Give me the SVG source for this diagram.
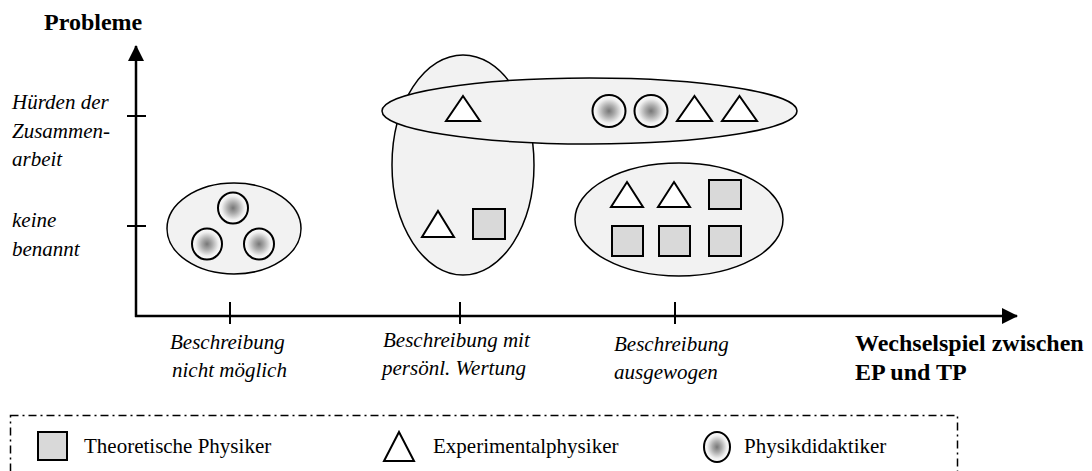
<svg xmlns="http://www.w3.org/2000/svg" width="1092" height="471" viewBox="0 0 1092 471">
<defs>
<radialGradient id="pd" cx="50%" cy="50%" r="50%">
<stop offset="0" stop-color="#777"/>
<stop offset="0.35" stop-color="#aaa"/>
<stop offset="0.75" stop-color="#eee"/>
<stop offset="1" stop-color="#fff"/>
</radialGradient>
<marker id="ah" viewBox="0 0 16 16" refX="15" refY="8" markerWidth="16" markerHeight="16" markerUnits="userSpaceOnUse" orient="auto">
<path d="M0,0 L16,8 L0,16 Z" fill="#000"/>
</marker>
</defs>
<style>
.grp{fill:#f2f2f2;stroke:#000;stroke-width:1.5}
.tp{fill:#d9d9d9;stroke:#000;stroke-width:2}
.ep{fill:#fff;stroke:#000;stroke-width:2;stroke-linejoin:miter}
.pd{fill:url(#pd);stroke:#000;stroke-width:2}
.axis{fill:none;stroke:#000;stroke-width:2.5}
.tick{stroke:#000;stroke-width:2}
.b{font-family:"Liberation Serif","Times New Roman",serif;font-weight:bold;font-size:24px;fill:#000}
.i{font-family:"Liberation Serif","Times New Roman",serif;font-style:italic;font-size:21px;fill:#000}
.l{font-family:"Liberation Serif","Times New Roman",serif;font-size:21px;fill:#000}
</style>
<rect width="1092" height="471" fill="#fff"/>

<g id="connectors">
<line class="axis" x1="136" y1="317" x2="136" y2="46" marker-end="url(#ah)"/>
<line class="axis" x1="135" y1="316" x2="1017" y2="316" marker-end="url(#ah)"/>
<line class="tick" x1="127" y1="116" x2="146" y2="116"/>
<line class="tick" x1="127" y1="226" x2="146" y2="226"/>
<line class="tick" x1="230" y1="302" x2="230" y2="324"/>
<line class="tick" x1="460" y1="302" x2="460" y2="324"/>
<line class="tick" x1="675" y1="302" x2="675" y2="324"/>
</g>

<g id="axis-labels">
<text class="b" x="44" y="30">Probleme</text>
<text class="i" x="12" y="109">Hürden der</text>
<text class="i" x="12" y="138">Zusammen-</text>
<text class="i" x="12" y="166">arbeit</text>
<text class="i" x="12" y="227">keine</text>
<text class="i" x="12" y="256">benannt</text>
<text class="i" x="170" y="349">Beschreibung</text>
<text class="i" x="172" y="377">nicht möglich</text>
<text class="i" x="383" y="347">Beschreibung mit</text>
<text class="i" x="382" y="375">persönl. Wertung</text>
<text class="i" x="614" y="351">Beschreibung</text>
<text class="i" x="614" y="379">ausgewogen</text>
<text class="b" x="855" y="351">Wechselspiel zwischen</text>
<text class="b" x="855" y="380">EP und TP</text>
</g>

<g id="group-keine-nicht">
<ellipse class="grp" cx="234" cy="228.5" rx="67" ry="45.5"/>
<ellipse class="pd" cx="233" cy="208" rx="15" ry="15.5"/>
<ellipse class="pd" cx="207" cy="244" rx="15" ry="15.5"/>
<ellipse class="pd" cx="259" cy="244" rx="15" ry="15.5"/>
</g>

<g id="group-wertung">
<ellipse class="grp" cx="463" cy="165" rx="71" ry="110"/>
<polygon class="ep" points="438,211 454,237 422,237"/>
<rect class="tp" x="473" y="209" width="32" height="30"/>
</g>

<g id="group-huerden">
<ellipse class="grp" cx="589.5" cy="111" rx="207.5" ry="33"/>
<polygon class="ep" points="463,96 480,121 446,121"/>
<ellipse class="pd" cx="609" cy="111" rx="16.5" ry="16"/>
<ellipse class="pd" cx="651" cy="111" rx="16.5" ry="16"/>
<polygon class="ep" points="694.5,96 712,121 677,121"/>
<polygon class="ep" points="739.5,96 757,121 722,121"/>
</g>

<g id="group-ausgewogen">
<ellipse class="grp" cx="679" cy="219.5" rx="104" ry="56.5"/>
<polygon class="ep" points="627,182 643,207 611,207"/>
<polygon class="ep" points="674,182 690,207 658,207"/>
<rect class="tp" x="709" y="180" width="32" height="29"/>
<rect class="tp" x="612" y="226" width="31" height="30"/>
<rect class="tp" x="659" y="226" width="31" height="30"/>
<rect class="tp" x="709" y="226" width="32" height="30"/>
</g>

<g id="legend">
<rect x="10.5" y="415.5" width="947" height="80" fill="none" stroke="#000" stroke-width="1.5" stroke-dasharray="8 4 2 4"/>
<rect class="tp" x="38" y="432" width="29" height="28"/>
<text class="l" x="84" y="453">Theoretische Physiker</text>
<polygon class="ep" points="399,432 414,461 384,461"/>
<text class="l" x="433" y="453">Experimentalphysiker</text>
<ellipse class="pd" cx="717" cy="447" rx="13" ry="15"/>
<text class="l" x="744" y="453">Physikdidaktiker</text>
</g>
</svg>
